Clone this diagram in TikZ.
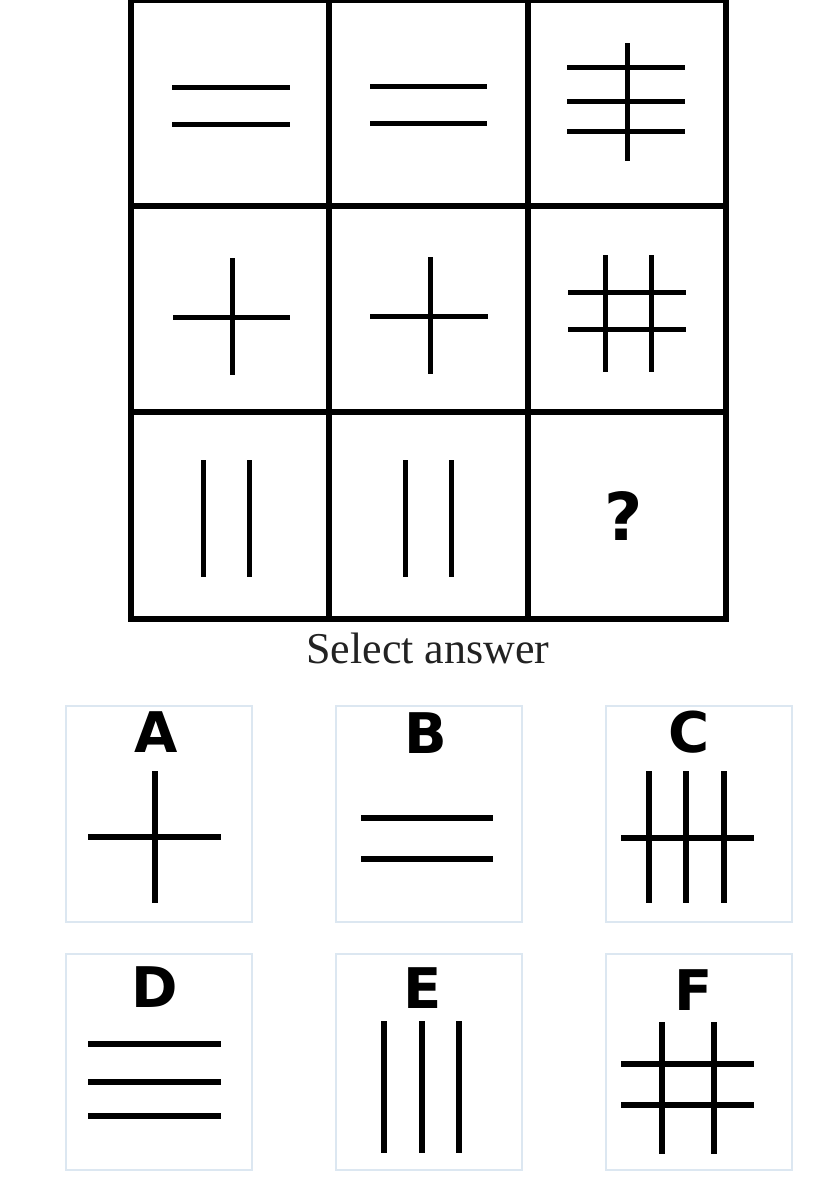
\documentclass[tikz,border=0pt]{standalone}
\usepackage{fontspec}
\setmainfont{Liberation Serif}
\newfontfamily\letterfont{DejaVu Sans}
\definecolor{boxblue}{HTML}{DCE7F1}
\definecolor{txtgray}{HTML}{222222}
\begin{document}
\begin{tikzpicture}[x=1pt,y=-1pt,
  gridline/.style={line width=6.5pt,black},
  fig/.style={line width=5pt,black},
  afig/.style={line width=6pt,black},
  ansbox/.style={draw=boxblue,line width=1.5pt,fill=white},
  ansletter/.style={font=\letterfont\bfseries\fontsize{56}{56}\selectfont,anchor=base,inner sep=0pt}]
\useasboundingbox[fill=white] (0,0) rectangle (828,1191);
% grid
\draw[gridline] (131,0) rectangle (726,619);
\draw[gridline] (329,0) -- (329,619);
\draw[gridline] (528,0) -- (528,619);
\draw[gridline] (131,206) -- (726,206);
\draw[gridline] (131,412) -- (726,412);
% row 1
\draw[fig] (172,87) -- (290,87) (172,124) -- (290,124);
\draw[fig] (370,86) -- (487,86) (370,123) -- (487,123);
\draw[fig] (567,67) -- (685,67) (567,101) -- (685,101) (567,131) -- (685,131) (627,43) -- (627,161);
% row 2
\draw[fig] (173,317) -- (290,317) (232,258) -- (232,375);
\draw[fig] (370,316) -- (488,316) (430,257) -- (430,374);
\draw[fig] (568,292) -- (686,292) (568,329) -- (686,329) (605,255) -- (605,372) (651,255) -- (651,372);
% row 3
\draw[fig] (203,460) -- (203,577) (249,460) -- (249,577);
\draw[fig] (405,460) -- (405,577) (451,460) -- (451,577);
\node[font=\letterfont\bfseries\fontsize{66}{66}\selectfont,anchor=base,inner sep=0pt] (q) at (624,540) {?};
% caption
\node[font=\fontsize{44}{44}\selectfont,text=txtgray,anchor=base,inner sep=0pt] (sel) at (428,663) {Select answer};
% answer boxes
\node[ansbox,minimum width=186pt,minimum height=216pt,inner sep=0pt] (boxA) at (159,814) {};
\node[ansbox,minimum width=186pt,minimum height=216pt,inner sep=0pt] (boxB) at (429,814) {};
\node[ansbox,minimum width=186pt,minimum height=216pt,inner sep=0pt] (boxC) at (699,814) {};
\node[ansbox,minimum width=186pt,minimum height=216pt,inner sep=0pt] (boxD) at (159,1062) {};
\node[ansbox,minimum width=186pt,minimum height=216pt,inner sep=0pt] (boxE) at (429,1062) {};
\node[ansbox,minimum width=186pt,minimum height=216pt,inner sep=0pt] (boxF) at (699,1062) {};
% letters
\node[ansletter] (lA) at (156,752) {A};
\node[ansletter] (lB) at (425.5,753) {B};
\node[ansletter] (lC) at (689,752) {C};
\node[ansletter] (lD) at (155,1007) {D};
\node[ansletter] (lE) at (423,1008) {E};
\node[ansletter] (lF) at (693.5,1010) {F};
% answer figures
\draw[afig] (88,837) -- (221,837) (155,771) -- (155,903);
\draw[afig] (361,818) -- (493,818) (361,859) -- (493,859);
\draw[afig] (621,838) -- (754,838) (649,771) -- (649,903) (686,771) -- (686,903) (724,771) -- (724,903);
\draw[afig] (88,1044) -- (221,1044) (88,1082) -- (221,1082) (88,1116) -- (221,1116);
\draw[afig] (384,1021) -- (384,1153) (422,1021) -- (422,1153) (459,1021) -- (459,1153);
\draw[afig] (621,1064) -- (754,1064) (621,1105) -- (754,1105) (662,1022) -- (662,1154) (714,1022) -- (714,1154);
\end{tikzpicture}
\end{document}
